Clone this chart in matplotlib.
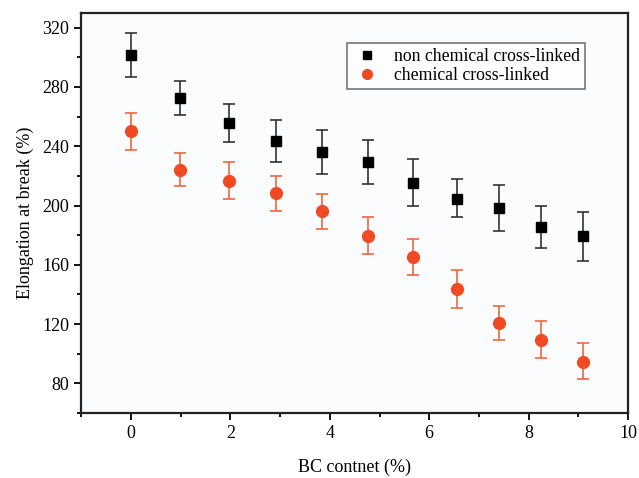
import matplotlib
matplotlib.use("Agg")
import matplotlib.pyplot as plt
from matplotlib.ticker import MultipleLocator
from matplotlib.lines import Line2D

# BC content (%)
bc_content = [0, 0.99, 1.97, 2.92, 3.84, 4.77, 5.67, 6.56, 7.40, 8.25, 9.09]

# non chemical cross-linked
non_chem = [301.5, 272.5, 255.8, 243.6, 236.3, 229.6, 215.3, 204.6, 198.5, 185.5, 179.5]
non_chem_lo = [286.8, 260.8, 243.2, 229.6, 221.6, 214.3, 199.7, 192.0, 183.1, 171.6, 162.8]
non_chem_hi = [316.4, 284.0, 268.5, 257.6, 250.8, 244.1, 231.3, 217.6, 213.9, 199.4, 195.8]

# chemical cross-linked
chem = [250.2, 224.2, 216.5, 208.6, 196.2, 179.6, 165.2, 143.7, 120.5, 109.5, 94.4]
chem_lo = [237.7, 213.3, 204.3, 196.4, 184.2, 167.0, 153.2, 130.7, 109.0, 97.1, 82.9]
chem_hi = [262.4, 235.7, 229.2, 220.0, 207.7, 192.0, 177.5, 156.8, 132.2, 122.1, 107.2]

plt.rcParams['font.family'] = ['Liberation Serif', 'DejaVu Serif']
plt.rcParams['font.size'] = 13

fig = plt.figure(figsize=(6.39, 4.78), dpi=100)
ax = fig.add_axes([0.127, 0.136, 0.856, 0.837])
ax.set_facecolor('#fbfcfe')

err_nc = [[v - l for v, l in zip(non_chem, non_chem_lo)],
          [h - v for v, h in zip(non_chem, non_chem_hi)]]
err_c = [[v - l for v, l in zip(chem, chem_lo)],
         [h - v for v, h in zip(chem, chem_hi)]]

black = 'black'
red = '#f04a25'
ax.errorbar(bc_content, non_chem, yerr=err_nc, fmt='s', color=black,
            ecolor='#333333', elinewidth=1.2, capsize=4, capthick=1.2,
            markersize=7.5)
ax.errorbar(bc_content, chem, yerr=err_c, fmt='o', color=red,
            ecolor='#f0673f', elinewidth=1.2, capsize=4, capthick=1.2,
            markersize=8.5)

ax.set_xlim(-1, 10)
ax.set_ylim(60, 330)
ax.xaxis.set_major_locator(MultipleLocator(2))
ax.xaxis.set_minor_locator(MultipleLocator(1))
ax.yaxis.set_major_locator(MultipleLocator(40))
ax.yaxis.set_minor_locator(MultipleLocator(20))
ax.tick_params(which='major', direction='out', length=5, width=1.3)
ax.tick_params(which='minor', direction='out', length=3, width=1.3)
for s in ax.spines.values():
    s.set_linewidth(1.6)
    s.set_color('#222222')

ax.set_xlabel("BC contnet (%)", fontsize=13, labelpad=12)
ax.set_ylabel("Elongation at break (%)", fontsize=13, labelpad=6)

handles = [
    Line2D([], [], ls='none', marker='s', color=black, markersize=6),
    Line2D([], [], ls='none', marker='o', color=red, markersize=7),
]
labels = ['non chemical cross-linked', 'chemical cross-linked']
leg = ax.legend(handles, labels, loc='upper right', bbox_to_anchor=(0.921, 0.925),
                borderaxespad=0, fontsize=12.8,
                frameon=True, fancybox=False, edgecolor='#555555',
                handlelength=1.6, handletextpad=0.7, borderpad=0.3,
                labelspacing=0.1)
leg.get_frame().set_linewidth(1.2)

fig.savefig("out.png", dpi=100)
